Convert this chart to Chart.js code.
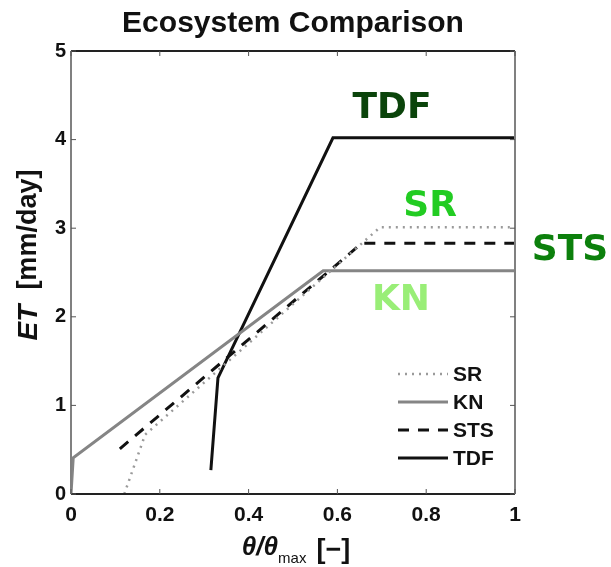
<!DOCTYPE html>
<html><head><meta charset="utf-8">
<script src="https://cdn.jsdelivr.net/npm/chart.js@4.4.1/dist/chart.umd.min.js"></script>
<style>html,body{margin:0;padding:0;background:#fff}#wrap{width:611px;height:567px}</style>
</head><body><div id="wrap"><canvas id="c" width="611" height="567"></canvas></div>
<script>
const seriesNames = ['SR','KN','STS','TDF'];
const srX = [0.12, 0.167, 0.696, 1.0];
const srY = [0.0, 0.67, 3.01, 3.01];
const knX = [0.0, 0.005, 0.568, 1.0];
const knY = [0.0, 0.41, 2.52, 2.52];
const stsX = [0.11, 0.655, 1.0];
const stsY = [0.51, 2.83, 2.83];
const tdfX = [0.315, 0.331, 0.59, 1.0];
const tdfY = [0.27, 1.31, 4.02, 4.02];
const xTicks = [0, 0.2, 0.4, 0.6, 0.8, 1];
const yTicks = [0, 1, 2, 3, 4, 5];
const labelNames = ['TDF','SR','STS','KN'];
const labelX = [0.723, 0.809, 1.124, 0.743];
const labelY = [4.355, 3.245, 2.745, 2.185];
const labelColors = ['#0b440b','#22cc22','#0c800c','#99ee77'];

const pts = (xs, ys) => xs.map((x,i)=>({x, y: ys[i]}));
const styles = [
  {borderColor:'#9a9a9a', borderWidth:2.5, borderDash:[2,5]},
  {borderColor:'#858585', borderWidth:3, borderDash:[]},
  {borderColor:'#111', borderWidth:3, borderDash:[11,9]},
  {borderColor:'#111', borderWidth:3, borderDash:[]}
];
const dataArr = [pts(srX,srY), pts(knX,knY), pts(stsX,stsY), pts(tdfX,tdfY)];
const FONT = '"Liberation Sans", Arial, sans-serif';

const overlay = {
  id:'overlay',
  afterDraw(chart){
    const ctx = chart.ctx, a = chart.chartArea;
    const xs = chart.scales.x, ys = chart.scales.y;
    ctx.save();
    // frame
    ctx.lineWidth = 2;
    ctx.strokeStyle = '#222';
    ctx.beginPath(); ctx.moveTo(a.left, a.top); ctx.lineTo(a.right, a.top); ctx.stroke();
    ctx.beginPath(); ctx.moveTo(a.left, a.bottom); ctx.lineTo(a.right, a.bottom); ctx.stroke();
    ctx.strokeStyle = '#808080';
    ctx.beginPath(); ctx.moveTo(a.left, a.top); ctx.lineTo(a.left, a.bottom); ctx.stroke();
    ctx.beginPath(); ctx.moveTo(a.right, a.top); ctx.lineTo(a.right, a.bottom); ctx.stroke();
    // inward ticks
    ctx.lineWidth = 1; ctx.strokeStyle = '#555';
    xTicks.forEach(v=>{ const px = xs.getPixelForValue(v);
      ctx.beginPath(); ctx.moveTo(px, a.bottom); ctx.lineTo(px, a.bottom-5); ctx.stroke();
      ctx.beginPath(); ctx.moveTo(px, a.top); ctx.lineTo(px, a.top+5); ctx.stroke(); });
    yTicks.forEach(v=>{ const py = ys.getPixelForValue(v);
      ctx.beginPath(); ctx.moveTo(a.left, py); ctx.lineTo(a.left+5, py); ctx.stroke();
      ctx.beginPath(); ctx.moveTo(a.right, py); ctx.lineTo(a.right-5, py); ctx.stroke(); });
    // title
    ctx.fillStyle = '#111';
    ctx.font = 'bold 30px ' + FONT;
    ctx.textAlign = 'center'; ctx.textBaseline = 'alphabetic';
    ctx.fillText('Ecosystem Comparison', (a.left+a.right)/2, 32);
    // y axis title
    ctx.save();
    ctx.translate(29, 255); ctx.rotate(-Math.PI/2);
    ctx.textAlign = 'left'; ctx.textBaseline = 'middle';
    ctx.font = 'italic bold 28px ' + FONT;
    const w1 = ctx.measureText('ET').width;
    ctx.font = 'bold 27px ' + FONT;
    const w2 = ctx.measureText('  [mm/day]').width;
    let sx = -(w1+w2)/2;
    ctx.font = 'italic bold 28px ' + FONT;
    ctx.fillText('ET', sx, 0);
    ctx.font = 'bold 27px ' + FONT;
    ctx.fillText('  [mm/day]', sx+w1, 0);
    ctx.restore();
    // x axis title
    ctx.textBaseline = 'alphabetic'; ctx.textAlign = 'left';
    ctx.font = 'italic bold 26px ' + FONT;
    const t1 = '\u03B8/\u03B8';
    const tw1 = ctx.measureText(t1).width;
    ctx.font = '15px ' + FONT;
    const tw2 = ctx.measureText('max').width;
    const gap = 10;
    ctx.font = 'bold 27px ' + FONT;
    const tw3 = ctx.measureText('[\u2212]').width;
    let bx = 296 - (tw1+tw2+gap+tw3)/2;
    ctx.font = 'italic bold 26px ' + FONT;
    ctx.fillText(t1, bx, 555);
    ctx.font = '15px ' + FONT;
    ctx.fillText('max', bx+tw1, 563);
    ctx.font = 'bold 27px ' + FONT;
    ctx.fillText('[\u2212]', bx+tw1+tw2+gap, 558);
    // annotations
    ctx.textAlign = 'center'; ctx.textBaseline = 'middle';
    ctx.font = 'bold 36px "DejaVu Sans", sans-serif';
    labelNames.forEach((n,i)=>{
      ctx.fillStyle = labelColors[i];
      ctx.fillText(n, xs.getPixelForValue(labelX[i]), ys.getPixelForValue(labelY[i]));
    });
    // legend
    const legY = [374, 402, 430, 458];
    ctx.textAlign = 'left';
    ctx.font = 'bold 21px ' + FONT;
    seriesNames.forEach((n,i)=>{
      const st = styles[i];
      ctx.strokeStyle = st.borderColor; ctx.lineWidth = st.borderWidth;
      ctx.setLineDash(st.borderDash);
      ctx.beginPath(); ctx.moveTo(398, legY[i]); ctx.lineTo(448, legY[i]); ctx.stroke();
      ctx.setLineDash([]);
      ctx.fillStyle = '#111';
      ctx.fillText(n, 453, legY[i]+1);
    });
    ctx.restore();
  }
};

new Chart(document.getElementById('c'), {
  type: 'scatter',
  data: {
    datasets: seriesNames.map((n,i)=>({
      label: n, data: dataArr[i], showLine: true, fill: false,
      pointRadius: 0, tension: 0,
      borderColor: styles[i].borderColor, borderWidth: styles[i].borderWidth,
      borderDash: styles[i].borderDash, borderCapStyle: 'butt'
    }))
  },
  options: {
    responsive: false, animation: false,
    layout: { padding: { left: 0, top: 51, right: 96, bottom: 0 } },
    plugins: { legend: { display: false }, tooltip: { enabled: false }, title: { display: false } },
    scales: {
      x: {
        type: 'linear', min: 0, max: 1,
        afterFit(s){ s.height = 73; },
        afterBuildTicks(s){ s.ticks = xTicks.map(v=>({value:v})); },
        grid: { display: false, drawTicks: false }, border: { display: false },
        ticks: { color: '#111', padding: 9, maxRotation: 0, font: { family: FONT, size: 21, weight: 'bold' },
          callback: v => String(v) }
      },
      y: {
        type: 'linear', min: 0, max: 5,
        afterFit(s){ s.width = 71; },
        afterBuildTicks(s){ s.ticks = yTicks.map(v=>({value:v})); },
        grid: { display: false, drawTicks: false }, border: { display: false },
        ticks: { color: '#111', padding: 5, font: { family: FONT, size: 20, weight: 'bold' },
          callback: v => String(v) }
      }
    }
  },
  plugins: [overlay]
});
</script></body></html>
